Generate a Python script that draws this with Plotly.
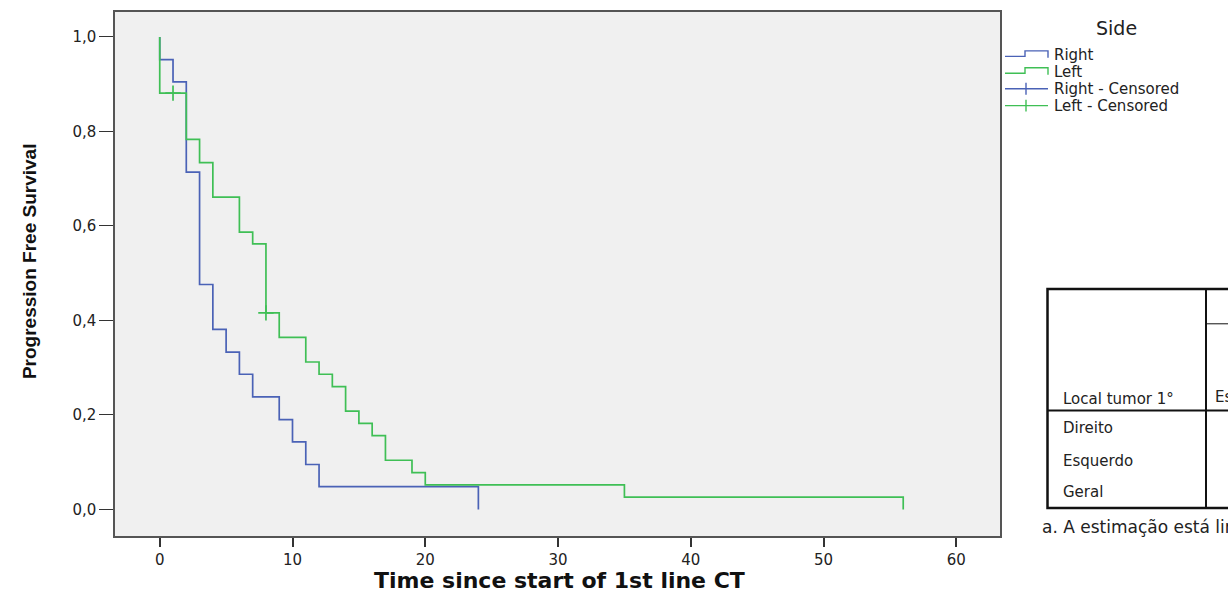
import plotly.graph_objects as go

# ---------------- data ----------------
right_time = [0, 0, 1, 2, 3, 4, 5, 6, 7, 9, 10, 11, 12, 24]
right_surv = [1.0, 0.952, 0.905, 0.714, 0.476, 0.381, 0.333, 0.286, 0.238, 0.190, 0.143, 0.095, 0.048, 0.0]

left_time = [0, 0, 2, 3, 4, 6, 7, 8, 9, 11, 12, 13, 14, 15, 16, 17, 19, 20, 35, 56]
left_surv = [1.0, 0.881, 0.783, 0.734, 0.661, 0.587, 0.562, 0.416, 0.364, 0.312, 0.286, 0.260,
             0.208, 0.182, 0.156, 0.104, 0.078, 0.052, 0.026, 0.0]

left_cens_time = [1, 8]
left_cens_surv = [0.881, 0.416]

x_ticks = [0, 10, 20, 30, 40, 50, 60]
y_ticks = [0.0, 0.2, 0.4, 0.6, 0.8, 1.0]
y_tick_text = ["0,0", "0,2", "0,4", "0,6", "0,8", "1,0"]

legend_title = "Side"
legend_labels = ["Right", "Left", "Right - Censored", "Left - Censored"]

table_header = "Local tumor 1°"
table_col = "Estimativa"
table_rows = ["Direito", "Esquerdo", "Geral"]
footnote = "a. A estimação está limitada ao maior tempo de sobrevivência, se for censurado."

BLUE = "#4A62B6"
GREEN = "#3FBF55"
FONT = "DejaVu Sans"

# ---------------- layout helpers (pixel -> paper) ----------------
W, H = 1228, 593
PL, PR, PT, PB = 115, 1000, 10, 536


def px(x):
    return (x - PL) / (PR - PL)


def py(y):
    return (PB - y) / (PB - PT)


fig = go.Figure()
fig.add_trace(go.Scatter(x=right_time, y=right_surv, mode="lines", line_shape="hv",
                         line=dict(color=BLUE, width=1.7), name="Right", hoverinfo="x+y"))
fig.add_trace(go.Scatter(x=left_time, y=left_surv, mode="lines", line_shape="hv",
                         line=dict(color=GREEN, width=1.7), name="Left", hoverinfo="x+y"))
fig.add_trace(go.Scatter(x=left_cens_time, y=left_cens_surv, mode="markers",
                         marker=dict(symbol="cross-thin", size=11, line=dict(color=GREEN, width=1.7)),
                         name="Left - Censored", hoverinfo="x+y"))

fig.update_layout(
    width=W, height=H,
    margin=dict(l=PL, r=W - PR, t=PT, b=H - PB),
    paper_bgcolor="white", plot_bgcolor="#F0F0F0",
    showlegend=False,
    font=dict(family=FONT, color="#222"),
)
fig.update_xaxes(range=[-3.37, 63.29], tickvals=x_ticks, ticks="outside", ticklen=9, tickwidth=1.6,
                 tickcolor="#333", showline=True, mirror=True, linecolor="#555", linewidth=1.5,
                 showgrid=False, zeroline=False, tickfont=dict(family=FONT, size=15, color="#222"))
fig.update_yaxes(range=[-0.0563, 1.0527], tickvals=y_ticks, ticktext=y_tick_text, ticks="outside",
                 ticklen=14, tickwidth=1.3, tickcolor="#333", showline=True, mirror=True,
                 linecolor="#555", linewidth=1.5, showgrid=False, zeroline=False,
                 tickfont=dict(family=FONT, size=15, color="#222"))

ann = []
shapes = []
# axis titles
ann.append(dict(text="Time since start of 1st line CT", x=px(559), y=py(581), xref="paper", yref="paper",
                showarrow=False, xanchor="center", yanchor="middle",
                font=dict(family="DejaVu Sans", size=22, color="#111", weight="bold")))
ann.append(dict(text="Progression Free Survival", x=px(29), y=py(260), xref="paper", yref="paper",
                showarrow=False, xanchor="center", yanchor="middle", textangle=-90,
                font=dict(family="Liberation Sans", size=19, color="#111", weight="bold")))

# custom legend
ann.append(dict(text=legend_title, x=px(1116), y=py(26), xref="paper", yref="paper", showarrow=False,
                xanchor="center", yanchor="middle", font=dict(family=FONT, size=19, color="#222")))
rows_y = [53, 70, 87, 104]
colors = [BLUE, GREEN, BLUE, GREEN]
for i, (lab, c, ry) in enumerate(zip(legend_labels, colors, rows_y)):
    ann.append(dict(text=lab, x=px(1052), y=py(ry), xref="paper", yref="paper", showarrow=False,
                    xanchor="left", yanchor="middle", font=dict(family=FONT, size=15, color="#222")))
    if i < 2:
        path = "M {} {} L {} {} L {} {} L {} {} L {} {}".format(
            px(1005), py(ry + 1.5), px(1025), py(ry + 1.5), px(1025), py(ry - 4),
            px(1048), py(ry - 4), px(1048), py(ry + 3))
        shapes.append(dict(type="path", path=path, xref="paper", yref="paper",
                           line=dict(color=c, width=1.4)))
    else:
        shapes.append(dict(type="line", x0=px(1005), x1=px(1048), y0=py(ry), y1=py(ry),
                           xref="paper", yref="paper", line=dict(color=c, width=1.4)))
        shapes.append(dict(type="line", x0=px(1026), x1=px(1026), y0=py(ry - 6), y1=py(ry + 6),
                           xref="paper", yref="paper", line=dict(color=c, width=1.4)))

# partial table on the right (cut by the image edge, as in the reference)
TL, TR, TT, TB = 1047.5, 1240, 288, 508
shapes.append(dict(type="rect", x0=px(TL), x1=px(TR), y0=py(TT), y1=py(TB), xref="paper", yref="paper",
                   line=dict(color="#111", width=2.5)))
shapes.append(dict(type="line", x0=px(1206), x1=px(1206), y0=py(TT), y1=py(TB), xref="paper",
                   yref="paper", line=dict(color="#111", width=2)))
shapes.append(dict(type="line", x0=px(TL), x1=px(TR), y0=py(410), y1=py(410), xref="paper",
                   yref="paper", line=dict(color="#111", width=2)))
shapes.append(dict(type="line", x0=px(1206), x1=px(TR), y0=py(323), y1=py(323), xref="paper",
                   yref="paper", line=dict(color="#111", width=1)))
ann.append(dict(text=table_header, x=px(1061), y=py(398), xref="paper", yref="paper", showarrow=False,
                xanchor="left", yanchor="middle",
                font=dict(family=FONT, size=15, color="#222")))
ann.append(dict(text=table_col, x=px(1213), y=py(396), xref="paper", yref="paper", showarrow=False,
                xanchor="left", yanchor="middle",
                font=dict(family=FONT, size=15, color="#222")))
for lab, ry in zip(table_rows, [428, 461, 492]):
    ann.append(dict(text=lab, x=px(1061), y=py(ry), xref="paper", yref="paper", showarrow=False,
                    xanchor="left", yanchor="middle",
                    font=dict(family=FONT, size=15, color="#222")))
ann.append(dict(text=footnote, x=px(1040), y=py(527), xref="paper", yref="paper", showarrow=False,
                xanchor="left", yanchor="middle",
                font=dict(family=FONT, size=17, color="#222")))

fig.update_layout(annotations=ann, shapes=shapes)
fig.write_html("out.html")
